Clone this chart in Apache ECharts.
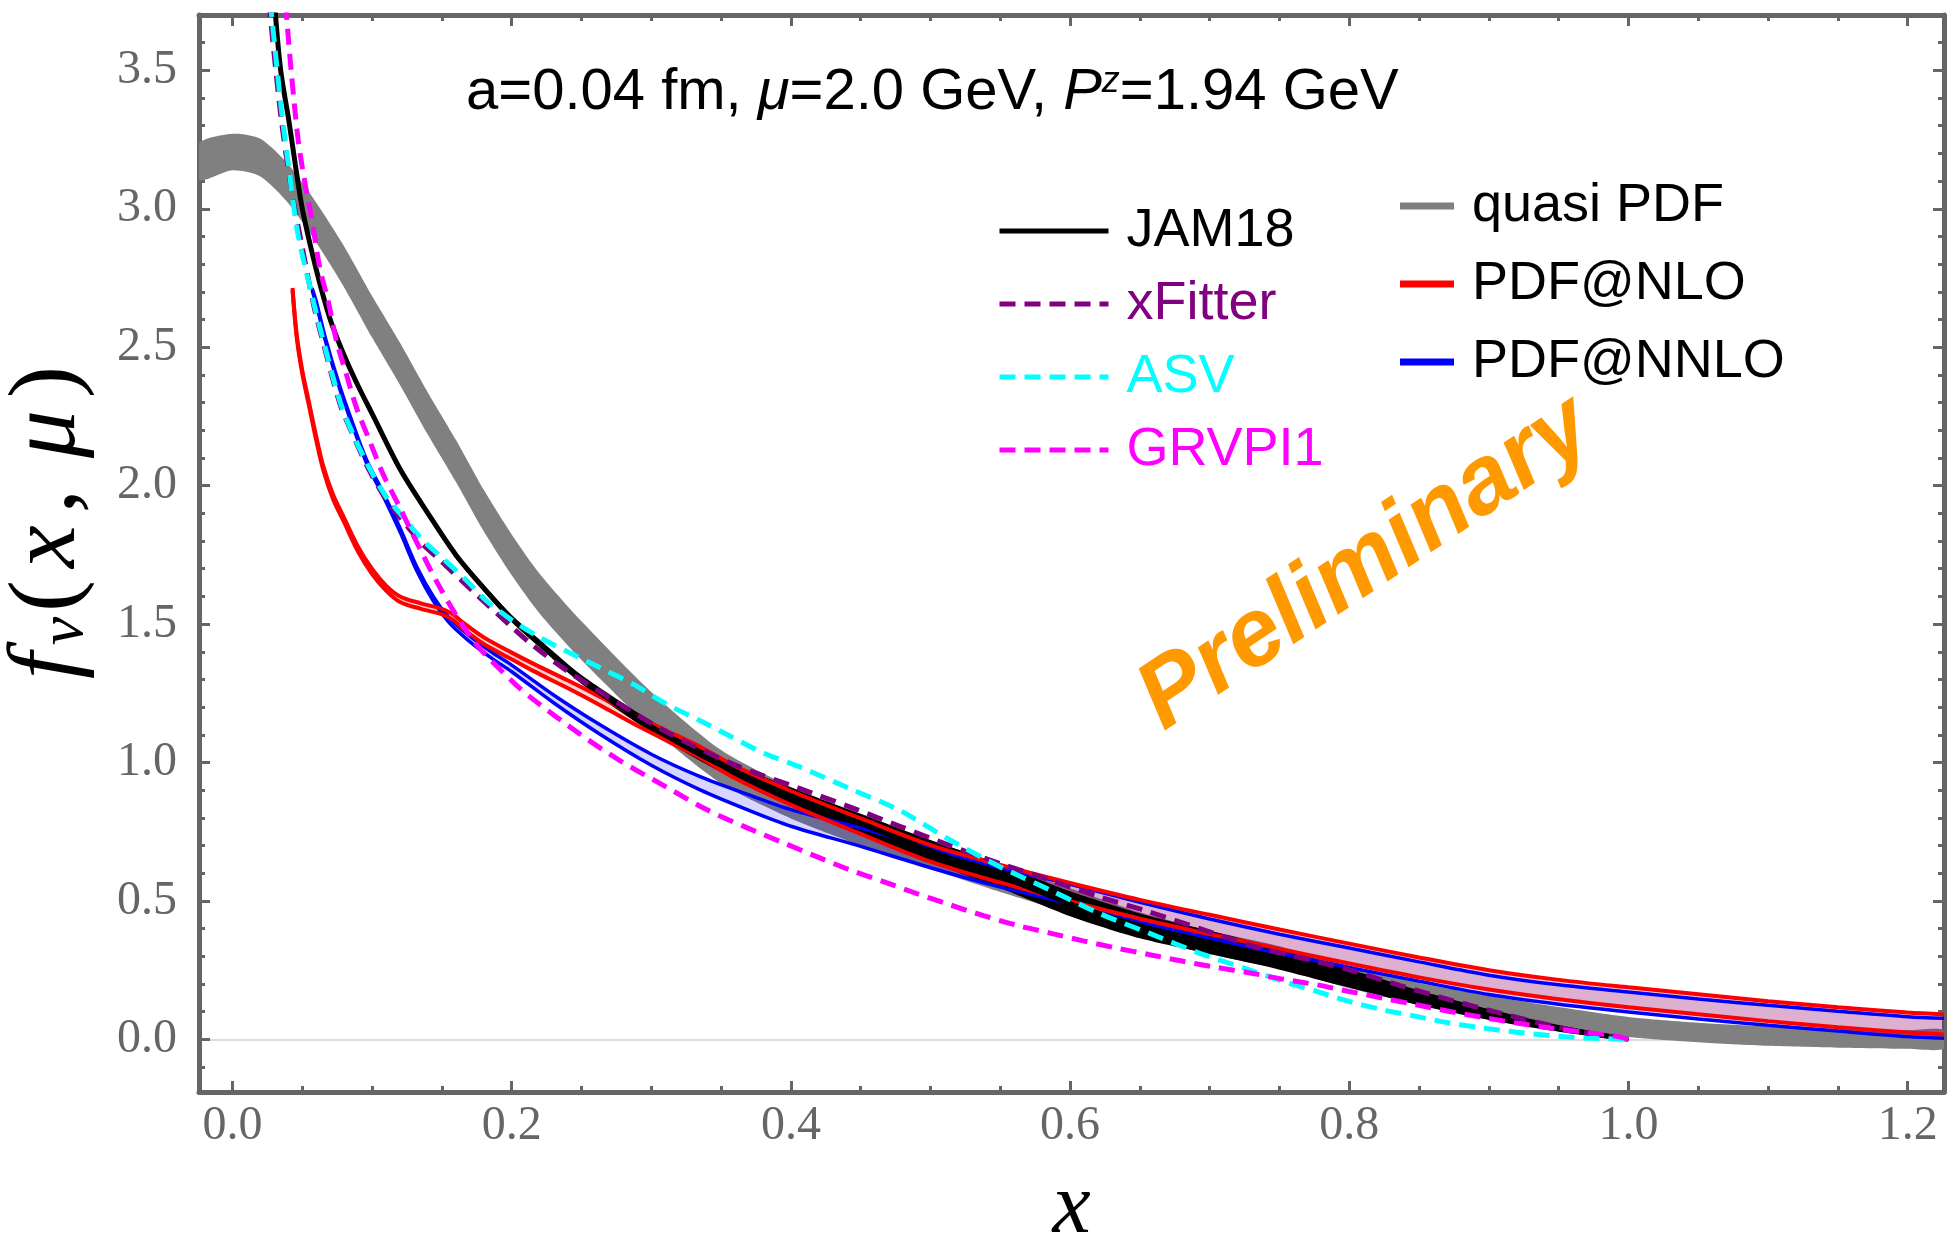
<!DOCTYPE html>
<html><head><meta charset="utf-8">
<script src="https://cdn.jsdelivr.net/npm/echarts@6/dist/echarts.min.js"></script>
<style>html,body{margin:0;padding:0;background:#fff}#c{width:1950px;height:1245px}</style>
</head><body><div id="c"></div>
<script>
// ---------------- data ----------------
const xMajorTicks = [0, 0.2, 0.4, 0.6, 0.8, 1.0, 1.2];
const xMinorTicks = [0.05, 0.1, 0.15, 0.25, 0.3, 0.35, 0.45, 0.5, 0.55, 0.65, 0.7, 0.75, 0.85, 0.9, 0.95, 1.05, 1.1, 1.15];
const yMajorTicks = [0, 0.5, 1.0, 1.5, 2.0, 2.5, 3.0, 3.5];
const yMinorTicks = [-0.1, 0.1, 0.2, 0.3, 0.4, 0.6, 0.7, 0.8, 0.9, 1.1, 1.2, 1.3, 1.4, 1.6, 1.7, 1.8, 1.9, 2.1, 2.2, 2.3, 2.4, 2.6, 2.7, 2.8, 2.9, 3.1, 3.2, 3.3, 3.4, 3.6];
const zeroLine = [0];

// quasi PDF (gray band)
const xGray = [-0.024, 0, 0.02, 0.04, 0.06, 0.08, 0.1, 0.12, 0.14, 0.16, 0.18, 0.2, 0.22, 0.25, 0.3, 0.35, 0.4, 0.45, 0.5, 0.55, 0.6, 0.65, 0.7, 0.75, 0.8, 0.85, 0.9, 0.95, 1.0, 1.05, 1.1, 1.15, 1.2, 1.226];
const grayUpper = [3.236, 3.271, 3.253, 3.16, 3.022, 2.864, 2.685, 2.516, 2.336, 2.166, 1.985, 1.824, 1.682, 1.51, 1.255, 1.045, 0.912, 0.809, 0.715, 0.628, 0.546, 0.459, 0.392, 0.336, 0.265, 0.204, 0.158, 0.117, 0.081, 0.06, 0.047, 0.038, 0.034, 0.034];
const grayLower = [3.104, 3.139, 3.117, 3.02, 2.878, 2.716, 2.535, 2.364, 2.184, 2.014, 1.835, 1.676, 1.538, 1.37, 1.125, 0.925, 0.798, 0.701, 0.615, 0.532, 0.454, 0.371, 0.308, 0.254, 0.185, 0.126, 0.082, 0.043, 0.009, -0.01, -0.023, -0.03, -0.034, -0.034];

// JAM18 (black band + central line)
const xJam = [0.030, 0.0345, 0.040, 0.045, 0.050, 0.060, 0.070, 0.080, 0.090, 0.100, 0.120, 0.140, 0.160, 0.180, 0.200, 0.220, 0.250, 0.300, 0.350, 0.400, 0.450, 0.500, 0.550, 0.600, 0.650, 0.700, 0.750, 0.800, 0.850, 0.900, 0.950, 1.000];
const jamCentral = [3.75, 3.50, 3.33, 3.16, 3.00, 2.78, 2.60, 2.47, 2.36, 2.26, 2.06, 1.90, 1.75, 1.63, 1.52, 1.43, 1.30, 1.13, 0.99, 0.88, 0.78, 0.68, 0.59, 0.49, 0.41, 0.35, 0.29, 0.22, 0.15, 0.09, 0.04, 0.00];
const jamUpper = [3.758, 3.508, 3.338, 3.168, 3.008, 2.788, 2.608, 2.478, 2.368, 2.268, 2.069, 1.910, 1.761, 1.642, 1.533, 1.444, 1.316, 1.150, 1.015, 0.910, 0.815, 0.720, 0.633, 0.535, 0.455, 0.392, 0.328, 0.253, 0.177, 0.110, 0.052, 0.004];
const jamLower = [3.742, 3.492, 3.322, 3.152, 2.992, 2.772, 2.592, 2.462, 2.352, 2.252, 2.051, 1.890, 1.739, 1.618, 1.507, 1.416, 1.284, 1.110, 0.965, 0.850, 0.745, 0.640, 0.547, 0.445, 0.365, 0.308, 0.252, 0.187, 0.123, 0.070, 0.028, -0.004];

// xFitter
const xXf = [0.026, 0.030, 0.035, 0.040, 0.045, 0.050, 0.058, 0.064, 0.077, 0.087, 0.098, 0.110, 0.120, 0.135, 0.150, 0.173, 0.200, 0.216, 0.240, 0.273, 0.311, 0.358, 0.407, 0.442, 0.478, 0.514, 0.550, 0.586, 0.621, 0.657, 0.693, 0.729, 0.765, 0.800, 0.836, 0.872, 0.908, 0.944, 0.972, 1.000];
const xfVals = [3.75, 3.55, 3.32, 3.14, 2.99, 2.86, 2.655, 2.535, 2.295, 2.175, 2.055, 1.95, 1.885, 1.795, 1.725, 1.615, 1.49, 1.42, 1.33, 1.225, 1.11, 0.995, 0.905, 0.84, 0.77, 0.70, 0.635, 0.575, 0.515, 0.46, 0.40, 0.34, 0.295, 0.251, 0.195, 0.143, 0.095, 0.05, 0.022, 0.0];

// ASV
const xAsv = [0.027, 0.030, 0.035, 0.040, 0.047, 0.058, 0.064, 0.077, 0.0865, 0.098, 0.110, 0.120, 0.135, 0.150, 0.168, 0.182, 0.200, 0.220, 0.240, 0.263, 0.287, 0.311, 0.335, 0.358, 0.382, 0.407, 0.442, 0.478, 0.514, 0.550, 0.586, 0.621, 0.657, 0.693, 0.729, 0.753, 0.777, 0.800, 0.824, 0.848, 0.872, 0.896, 0.920, 0.944, 0.968, 1.000];
const asvVals = [3.75, 3.60, 3.36, 3.16, 2.905, 2.665, 2.544, 2.304, 2.184, 2.064, 1.96, 1.90, 1.81, 1.74, 1.656, 1.584, 1.515, 1.452, 1.40, 1.343, 1.283, 1.211, 1.151, 1.091, 1.031, 0.983, 0.906, 0.827, 0.72, 0.623, 0.539, 0.455, 0.383, 0.311, 0.25, 0.209, 0.173, 0.137, 0.107, 0.083, 0.059, 0.041, 0.026, 0.014, 0.005, 0.0];

// GRVPI1
const xGrv = [0.038, 0.042, 0.047, 0.052, 0.0567, 0.0626, 0.0686, 0.0746, 0.0817, 0.0889, 0.0984, 0.108, 0.120, 0.128, 0.1486, 0.1725, 0.2011, 0.2155, 0.2488, 0.2775, 0.311, 0.3396, 0.3683, 0.3946, 0.4185, 0.4423, 0.4662, 0.490, 0.514, 0.538, 0.562, 0.5856, 0.6095, 0.633, 0.657, 0.681, 0.705, 0.729, 0.753, 0.777, 0.800, 0.824, 0.848, 0.872, 0.896, 0.920, 0.944, 0.968, 0.992, 1.000];
const grvVals = [3.74, 3.50, 3.25, 3.09, 2.965, 2.785, 2.665, 2.52, 2.40, 2.28, 2.16, 2.04, 1.92, 1.836, 1.632, 1.44, 1.29, 1.228, 1.103, 1.007, 0.911, 0.83, 0.765, 0.71, 0.660, 0.612, 0.570, 0.527, 0.486, 0.447, 0.412, 0.384, 0.356, 0.330, 0.306, 0.282, 0.26, 0.240, 0.217, 0.197, 0.173, 0.149, 0.125, 0.101, 0.079, 0.059, 0.041, 0.026, 0.011, 0.0];

// PDF@NLO (red band)
const xRed = [0.043, 0.046, 0.050, 0.055, 0.060, 0.065, 0.072, 0.080, 0.090, 0.100, 0.110, 0.120, 0.135, 0.150, 0.158, 0.165, 0.180, 0.200, 0.215, 0.240, 0.263, 0.287, 0.311, 0.335, 0.360, 0.400, 0.450, 0.500, 0.550, 0.600, 0.650, 0.700, 0.750, 0.800, 0.850, 0.900, 0.950, 1.000, 1.050, 1.100, 1.150, 1.200, 1.226];
const redUpper = [2.714, 2.545, 2.416, 2.296, 2.177, 2.071, 1.968, 1.883, 1.779, 1.699, 1.639, 1.600, 1.575, 1.555, 1.535, 1.506, 1.452, 1.397, 1.358, 1.297, 1.238, 1.173, 1.115, 1.057, 0.987, 0.897, 0.798, 0.702, 0.630, 0.565, 0.504, 0.450, 0.397, 0.346, 0.296, 0.250, 0.215, 0.188, 0.163, 0.138, 0.116, 0.097, 0.090];
const redLower = [2.706, 2.535, 2.404, 2.284, 2.163, 2.057, 1.952, 1.867, 1.761, 1.681, 1.621, 1.580, 1.555, 1.535, 1.515, 1.484, 1.428, 1.373, 1.332, 1.269, 1.208, 1.141, 1.079, 1.017, 0.943, 0.847, 0.742, 0.642, 0.566, 0.499, 0.436, 0.380, 0.327, 0.274, 0.224, 0.180, 0.145, 0.116, 0.091, 0.066, 0.044, 0.025, 0.018];

// PDF@NNLO (blue band)
const xBlue = [0.057, 0.060, 0.067, 0.077, 0.087, 0.096, 0.108, 0.120, 0.132, 0.144, 0.155, 0.168, 0.185, 0.200, 0.230, 0.263, 0.300, 0.335, 0.370, 0.400, 0.450, 0.500, 0.550, 0.600, 0.650, 0.700, 0.750, 0.800, 0.850, 0.900, 0.950, 1.000, 1.050, 1.100, 1.150, 1.200, 1.226];
const blueUpper = [2.714, 2.665, 2.525, 2.357, 2.213, 2.094, 1.974, 1.847, 1.707, 1.598, 1.524, 1.465, 1.401, 1.352, 1.244, 1.137, 1.030, 0.949, 0.883, 0.830, 0.763, 0.690, 0.620, 0.560, 0.495, 0.435, 0.380, 0.330, 0.280, 0.232, 0.197, 0.171, 0.146, 0.123, 0.102, 0.082, 0.076];
const blueLower = [2.706, 2.655, 2.515, 2.347, 2.203, 2.082, 1.962, 1.833, 1.693, 1.582, 1.506, 1.445, 1.379, 1.328, 1.216, 1.103, 0.990, 0.901, 0.827, 0.770, 0.697, 0.620, 0.550, 0.490, 0.425, 0.365, 0.310, 0.260, 0.210, 0.162, 0.127, 0.099, 0.074, 0.051, 0.030, 0.010, 0.004];

// ---------------- chart ----------------
const AX = '#666666';
const SANS = 'Liberation Sans';
const SERIF = 'Liberation Serif';
const SM = 0.3;
const pairs = (xs, ys) => xs.map((x, i) => [x, ys[i]]);

function xAx(pos, ticks, len, showLine, label) {
  return {
    type: 'value', min: -0.024, max: 1.226, position: pos,
    axisLine: {show: showLine, onZero: false, lineStyle: {color: AX, width: 5}},
    axisTick: {show: true, inside: true, length: len, customValues: ticks, lineStyle: {color: AX, width: 3}},
    axisLabel: label ? {show: true, customValues: ticks, formatter: v => v.toFixed(1), fontFamily: SERIF, fontSize: 48, color: AX, margin: 10} : {show: false, customValues: ticks},
    splitLine: {show: false}
  };
}
function yAx(pos, ticks, len, showLine, label) {
  return {
    type: 'value', min: -0.19, max: 3.7, position: pos,
    axisLine: {show: showLine, onZero: false, lineStyle: {color: AX, width: 5}},
    axisTick: {show: true, inside: true, length: len, customValues: ticks, lineStyle: {color: AX, width: 3}},
    axisLabel: label ? {show: true, customValues: ticks, formatter: v => v.toFixed(1), fontFamily: SERIF, fontSize: 48, color: AX, margin: 22} : {show: false, customValues: ticks},
    splitLine: {show: false}
  };
}

const xAxes = [xAx('bottom', xMajorTicks, 11, true, true), xAx('bottom', xMinorTicks, 6, false, false), xAx('top', xMajorTicks, 11, true, false), xAx('top', xMinorTicks, 6, false, false)];
xAxes[0].name = 'x';
xAxes[0].nameLocation = 'middle';
xAxes[0].nameGap = 74;
xAxes[0].nameTextStyle = {fontFamily: SERIF, fontStyle: 'italic', fontSize: 86, color: '#000'};

const yAxes = [yAx('left', yMajorTicks, 11, true, true), yAx('left', yMinorTicks, 6, false, false), yAx('right', yMajorTicks, 11, true, false), yAx('right', yMinorTicks, 6, false, false)];
// zero reference line (light gray) drawn as a split line of a hidden axis
const zeroAxis = yAx('left', zeroLine, 0, false, false);
zeroAxis.axisTick.show = false;
zeroAxis.splitLine = {show: true, lineStyle: {color: '#d2d2d2', width: 1.5}};
yAxes.push(zeroAxis);

yAxes[0].name = '{f|f}{v|v}{p|(}{f|x}{p|,\u2009}{f|\u03bc}{p|)}';
yAxes[0].nameLocation = 'middle';
yAxes[0].nameRotate = 90;
yAxes[0].nameGap = 102;
yAxes[0].nameTextStyle = {
  padding: [0, 0, 0, 60],
  rich: {
    f: {fontFamily: SERIF, fontStyle: 'italic', fontSize: 96, color: '#000', padding: [0, 7, 0, 7]},
    v: {fontFamily: SERIF, fontStyle: 'italic', fontSize: 64, color: '#000', verticalAlign: 'bottom'},
    p: {fontFamily: SERIF, fontSize: 96, color: '#000', padding: [0, 5, 0, 5]}
  }
};

function bandSeries(name, xs, up, lo, color) {
  return {
    name: name, type: 'custom', coordinateSystem: 'cartesian2d', clip: true, silent: true,
    data: [[xs[0], lo[0]]],
    renderItem: function (params, api) {
      const pts = [];
      for (let i = 0; i < xs.length; i++) pts.push(api.coord([xs[i], up[i]]));
      for (let i = xs.length - 1; i >= 0; i--) pts.push(api.coord([xs[i], lo[i]]));
      return {type: 'polygon', shape: {points: pts, smooth: 0.25}, style: {fill: color, stroke: null}, silent: true};
    }
  };
}
function lineSeries(name, xs, ys, color, width, dash) {
  return {name: name, type: 'line', data: pairs(xs, ys), symbol: 'none', showSymbol: false, smooth: SM, color: color,
    lineStyle: {color: color, width: width, type: dash ? [16, 9] : 'solid', cap: 'butt'}, silent: true, clip: true};
}

const series = [];
const grayBand = bandSeries('quasi PDF', xGray, grayUpper, grayLower, '#808080');
grayBand.itemStyle = {color: '#808080'};
series.push(grayBand);
series.push(bandSeries('nnlo band', xBlue, blueUpper, blueLower, 'rgba(0,0,255,0.16)'));
series.push(bandSeries('nlo band', xRed, redUpper, redLower, 'rgba(255,0,0,0.18)'));
series.push(lineSeries('PDF@NNLO', xBlue, blueUpper, '#0000FF', 3.5, false));
series.push(lineSeries('nnlo low', xBlue, blueLower, '#0000FF', 3.5, false));
series.push(lineSeries('PDF@NLO', xRed, redUpper, '#FF0000', 4, false));
series.push(lineSeries('nlo low', xRed, redLower, '#FF0000', 4, false));
series.push(bandSeries('jam band', xJam, jamUpper, jamLower, '#000000'));
series.push(lineSeries('JAM18', xJam, jamCentral, '#000000', 5, false));
series.push(lineSeries('xFitter', xXf, xfVals, '#800080', 5, true));
series.push(lineSeries('ASV', xAsv, asvVals, '#00FFFF', 5, true));
series.push(lineSeries('GRVPI1', xGrv, grvVals, '#FF00FF', 5, true));

const legendText = {fontFamily: SANS, fontSize: 54, lineHeight: 60, color: '#000', padding: [0, 0, 0, 13]};

const option = {
  animation: false,
  backgroundColor: '#ffffff',
  grid: {left: 199, right: 6, top: 15, bottom: 153, containLabel: false, outerBoundsMode: 'none'},
  xAxis: xAxes,
  yAxis: yAxes,
  legend: [
    {orient: 'vertical', left: 992, top: 196, itemWidth: 109, itemHeight: 20, itemGap: 13, selectedMode: false,
     itemStyle: {opacity: 0, borderWidth: 0},
     lineStyle: {width: 5},
     textStyle: legendText,
     data: [
       {name: 'JAM18', textStyle: {color: '#000000'}},
       {name: 'xFitter', textStyle: {color: '#800080'}},
       {name: 'ASV', textStyle: {color: '#00FFFF'}},
       {name: 'GRVPI1', textStyle: {color: '#FF00FF'}}
     ]},
    {orient: 'vertical', left: 1395, top: 171, itemWidth: 54, itemHeight: 7, itemGap: 18, selectedMode: false,
     textStyle: legendText,
     data: [
       {name: 'quasi PDF', icon: 'rect', itemStyle: {color: '#808080'}},
       {name: 'PDF@NLO', icon: 'rect', itemStyle: {color: '#FF0000'}},
       {name: 'PDF@NNLO', icon: 'rect', itemStyle: {color: '#0000FF'}}
     ]}
  ],
  graphic: [
    {type: 'text', x: 466, y: 93, z: 100, style: {
      text: '{n|a=0.04 fm, }{i|\u03bc}{n|=2.0 GeV, }{i|P}{s|z}{n|=1.94 GeV}',
      verticalAlign: 'middle', align: 'left',
      rich: {
        n: {fontFamily: SANS, fontSize: 58, fill: '#000'},
        i: {fontFamily: SANS, fontStyle: 'italic', fontSize: 58, fill: '#000'},
        s: {fontFamily: SANS, fontStyle: 'italic', fontSize: 36, fill: '#000', verticalAlign: 'top'}
      }
    }},
    {type: 'text', x: 1366, y: 564, rotation: 0.59, z: 100, style: {
      text: 'Preliminary', fontFamily: SANS, fontStyle: 'italic', fontWeight: 'bold', fontSize: 96,
      fill: '#FF9900', align: 'center', verticalAlign: 'middle'
    }}
  ],
  series: series
};

const chart = echarts.init(document.getElementById('c'), null, {renderer: 'canvas'});
chart.setOption(option);
</script></body></html>
